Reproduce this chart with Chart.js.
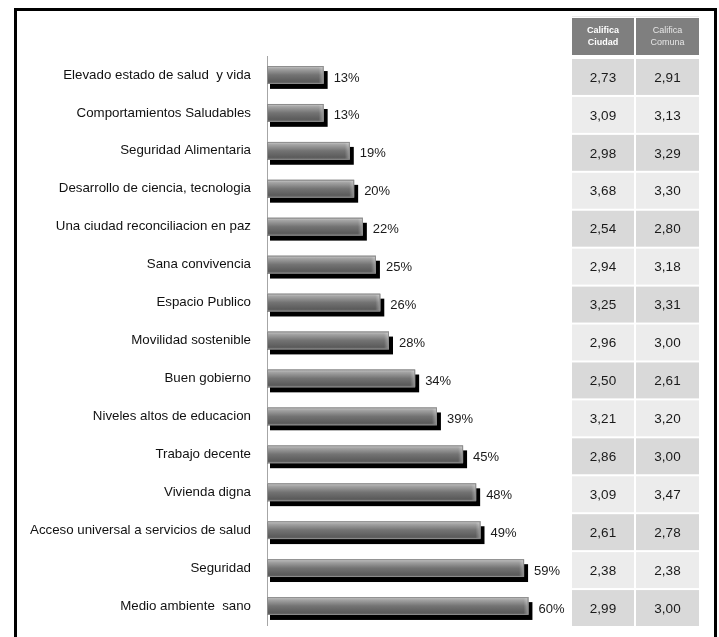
<!DOCTYPE html>
<html><head><meta charset="utf-8">
<script src="https://cdn.jsdelivr.net/npm/chart.js@4.4.1/dist/chart.umd.min.js"></script>
<style>
html,body{margin:0;padding:0;background:#fff;width:719px;height:637px;overflow:hidden}
#frame{position:absolute;left:14px;top:8px;width:703px;height:640px;border:3px solid #000;border-bottom:none;box-sizing:border-box}
#wrap{position:absolute;left:0;top:0;width:719px;height:637px}
</style></head>
<body>
<div id="frame"></div>
<div id="wrap"><canvas id="c" width="719" height="637"></canvas></div>
<script>
// ===== DATA =====
const CATEGORIES=['Elevado estado de salud  y vida','Comportamientos Saludables','Seguridad Alimentaria','Desarrollo de ciencia, tecnologia','Una ciudad reconciliacion en paz','Sana convivencia','Espacio Publico','Movilidad sostenible','Buen gobierno','Niveles altos de educacion','Trabajo decente','Vivienda digna','Acceso universal a servicios de salud','Seguridad','Medio ambiente  sano'];
const PERCENT=[13,13,19,20,22,25,26,28,34,39,45,48,49,59,60];
const CALIFICA_CIUDAD=[2.73,3.09,2.98,3.68,2.54,2.94,3.25,2.96,2.50,3.21,2.86,3.09,2.61,2.38,2.99];
const CALIFICA_COMUNA=[2.91,3.13,3.29,3.30,2.80,3.18,3.31,3.00,2.61,3.20,3.00,3.47,2.78,2.38,3.00];
const TABLE_HEADERS=[['Califica','Ciudad'],['Califica','Comuna']];

const FONT='"Liberation Sans", Arial, sans-serif';
const fmtNum=v=>v.toFixed(2).replace('.',',');

// shadow under bars, then gloss over them
const barStyle={
  id:'barStyle',
  beforeDatasetsDraw(chart){
    const ctx=chart.ctx;ctx.save();ctx.fillStyle='#000';
    chart.getDatasetMeta(0).data.forEach(b=>{
      const p=b.getProps(['x','y','base','height'],true);
      ctx.fillRect(p.base+3,p.y-p.height/2+5,p.x-p.base+1,p.height);
    });
    ctx.restore();
  },
  afterDatasetsDraw(chart){
    const ctx=chart.ctx;ctx.save();
    chart.getDatasetMeta(0).data.forEach((b,i)=>{
      const p=b.getProps(['x','y','base','height'],true);
      const top=p.y-p.height/2,w=p.x-p.base;
      const g=ctx.createLinearGradient(0,top,0,top+p.height);
      g.addColorStop(0,'#cfcfcf');g.addColorStop(0.15,'#a4a4a4');g.addColorStop(0.5,'#737373');g.addColorStop(0.85,'#5c5c5c');g.addColorStop(1,'#666');
      ctx.fillStyle=g;ctx.fillRect(p.base,top,w,p.height);
      // lighter bevel at the bar end
      const e=ctx.createLinearGradient(p.x-5,0,p.x,0);
      e.addColorStop(0,'rgba(255,255,255,0)');e.addColorStop(1,'rgba(255,255,255,0.35)');
      ctx.fillStyle=e;ctx.fillRect(p.x-5,top+1,5,p.height-2);
      ctx.strokeStyle='#8c8c8c';ctx.lineWidth=1;ctx.strokeRect(p.base+0.5,top+0.5,w-1,p.height-1);
      // value label
      ctx.fillStyle='#1a1a1a';ctx.font='13px '+FONT;ctx.textBaseline='middle';ctx.textAlign='left';
      ctx.fillText(PERCENT[i]+'%',p.x+10,p.y+3);
    });
    ctx.restore();
  }
};

// side table, rows aligned to the category scale
const sideTable={
  id:'sideTable',
  afterDraw(chart){
    const ctx=chart.ctx,ys=chart.scales.y;
    const cols=[{x:572,w:62,vals:CALIFICA_CIUDAD},{x:636,w:63,vals:CALIFICA_COMUNA}];
    const band=ys.getPixelForValue(1)-ys.getPixelForValue(0);
    ctx.save();
    ctx.fillStyle='#ededed';ctx.fillRect(572,16,127,1);
    cols.forEach((c,ci)=>{
      ctx.fillStyle='#7f7f7f';ctx.fillRect(c.x,18,c.w,37);
      ctx.fillStyle=ci===0?'#ffffff':'#e6e6e6';ctx.textAlign='center';ctx.textBaseline='middle';
      ctx.font=(ci===0?'bold ':'')+'9px '+FONT;
      ctx.fillText(TABLE_HEADERS[ci][0],c.x+c.w/2,31);
      ctx.fillText(TABLE_HEADERS[ci][1],c.x+c.w/2,43);
      c.vals.forEach((v,i)=>{
        const cy=ys.getPixelForValue(i)+2;
        ctx.fillStyle=i%2===0?'#d9d9d9':'#ececec';
        ctx.fillRect(c.x,cy-band/2+1,c.w,band-2);
        ctx.fillStyle='#1a1a1a';ctx.font='13.5px '+FONT;
        ctx.fillText(fmtNum(v),c.x+c.w/2,cy+1);
      });
    });
    ctx.restore();
  }
};

new Chart(document.getElementById('c'),{
  type:'bar',
  data:{labels:CATEGORIES,datasets:[{data:PERCENT,backgroundColor:'#666',borderWidth:0,barPercentage:0.47,categoryPercentage:1}]},
  options:{
    indexAxis:'y',responsive:false,animation:false,
    layout:{padding:{top:56,bottom:12,left:0,right:147}},
    plugins:{legend:{display:false},tooltip:{enabled:false}},
    scales:{
      x:{display:false,min:0,max:70},
      y:{offset:true,grid:{display:false,drawTicks:false},border:{display:true,color:'#a6a6a6',width:1},
         ticks:{color:'#111',padding:16,font:{family:FONT,size:13.3}},
         afterFit:s=>{s.width=267;s.paddingTop=0;s.paddingBottom=0}}
    }
  },
  plugins:[barStyle,sideTable]
});
</script>
</body></html>
